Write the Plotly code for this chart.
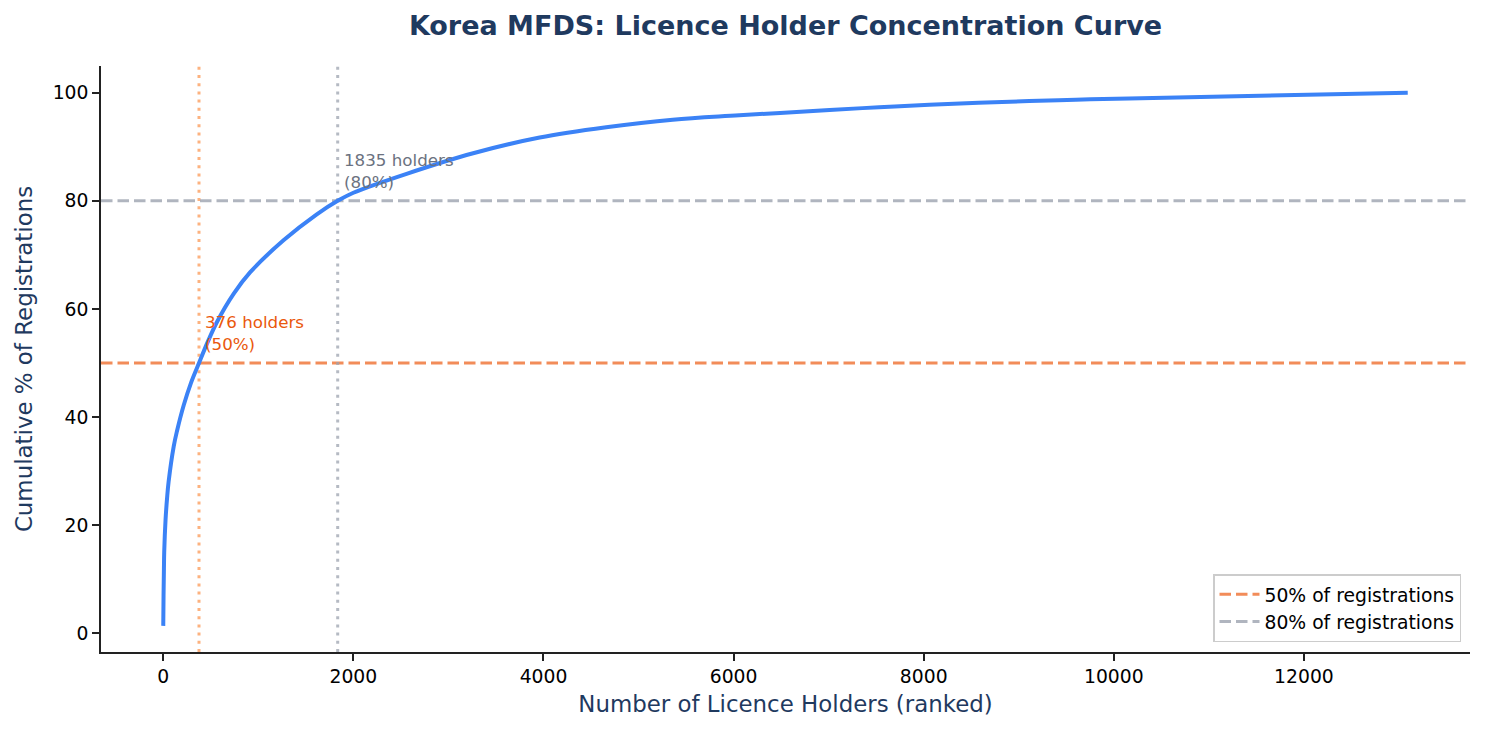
import plotly.graph_objects as go

# Cumulative concentration curve
holders = [0, 3, 7, 10, 24, 40, 56, 110, 144, 215, 291, 376, 470, 565, 740, 915,
           1265, 1615, 1835, 2000, 2560, 3260, 3960, 4660, 5360, 6060, 7010,
           7530, 8060, 9110, 9600, 10160, 13092]
cum_pct = [1.4, 7.0, 12.0, 15.0, 21.0, 25.0, 28.0, 34.6, 37.4, 42.2, 46.3, 50.0,
           54.0, 57.6, 62.8, 66.8, 72.7, 77.5, 80.0, 81.5, 85.0, 88.8, 91.7,
           93.6, 95.0, 95.8, 96.8, 97.3, 97.75, 98.45, 98.7, 98.9, 100.0]

thresholds = [50, 80]
threshold_holders = [376, 1835]
threshold_names = ["50% of registrations", "80% of registrations"]
ann_texts = ["376 holders<br>(50%)", "1835 holders<br>(80%)"]

x_ticks = [0, 2000, 4000, 6000, 8000, 10000, 12000]
x_tick_labels = ["0", "2000", "4000", "6000", "8000", "10000", "12000"]
y_ticks = [0, 20, 40, 60, 80, 100]

NAVY = "#1f3a5f"
BLUE = "#3b82f6"
hline_colors = ["rgba(240,120,60,0.85)", "rgba(156,163,175,0.8)"]
vline_colors = ["rgba(249,115,22,0.55)", "rgba(156,163,175,0.75)"]
text_colors = ["#ea580c", "#6b7280"]

fig = go.Figure()

fig.add_trace(go.Scatter(
    x=holders, y=cum_pct, mode="lines",
    line=dict(color=BLUE, width=4, shape="spline", smoothing=1.0),
    showlegend=False, hoverinfo="skip",
))

for i in range(2):
    fig.add_shape(
        type="line", xref="x domain", x0=0, x1=1, yref="y",
        y0=thresholds[i], y1=thresholds[i],
        line=dict(color=hline_colors[i], width=3, dash="11.5px,5px"),
        showlegend=True, name=threshold_names[i], layer="below",
    )
    fig.add_shape(
        type="line", yref="y domain", y0=0, y1=1, xref="x",
        x0=threshold_holders[i], x1=threshold_holders[i],
        line=dict(color=vline_colors[i], width=3, dash="3px,5.2px"),
        layer="below",
    )
    fig.add_annotation(
        x=threshold_holders[i] + 45, y=thresholds[i] + 1.3,
        xref="x", yref="y", text=ann_texts[i], showarrow=False,
        xanchor="left", yanchor="bottom", align="left",
        font=dict(size=16.7, color=text_colors[i]),
    )

axis_common = dict(
    showgrid=False, zeroline=False, showline=True, linecolor="#222222",
    linewidth=1.6, ticks="outside", ticklen=7, tickwidth=1.6,
    tickcolor="#222222", tickfont=dict(size=18.75, color="#000000"),
    mirror=False,
)

fig.update_layout(
    width=1485, height=733,
    margin=dict(l=101, r=15, t=66, b=81),
    paper_bgcolor="white", plot_bgcolor="white",
    font=dict(family="DejaVu Sans", color="#000000"),
    title=dict(
        text="<b>Korea MFDS: Licence Holder Concentration Curve</b>",
        xref="paper", x=0.5, xanchor="center",
        yref="container", y=1 - 26 / 733, yanchor="middle",
        font=dict(size=27, color=NAVY),
    ),
    xaxis=dict(
        range=[-655, 13747], tickvals=x_ticks, ticktext=x_tick_labels,
        title=dict(text="Number of Licence Holders (ranked)",
                   font=dict(size=22.9, color=NAVY), standoff=10),
        **axis_common,
    ),
    yaxis=dict(
        range=[-3.43, 104.93], tickvals=y_ticks,
        title=dict(text="Cumulative % of Registrations",
                   font=dict(size=22.9, color=NAVY), standoff=14),
        **axis_common,
    ),
    legend=dict(
        x=1 - 9 / 1369, xanchor="right", y=10 / 586, yanchor="bottom",
        bgcolor="white", bordercolor="#cccccc", borderwidth=1.5,
        font=dict(size=18.75, color="#000000"),
        itemwidth=40, tracegroupgap=2,
    ),
)

fig.write_html("out.html")
